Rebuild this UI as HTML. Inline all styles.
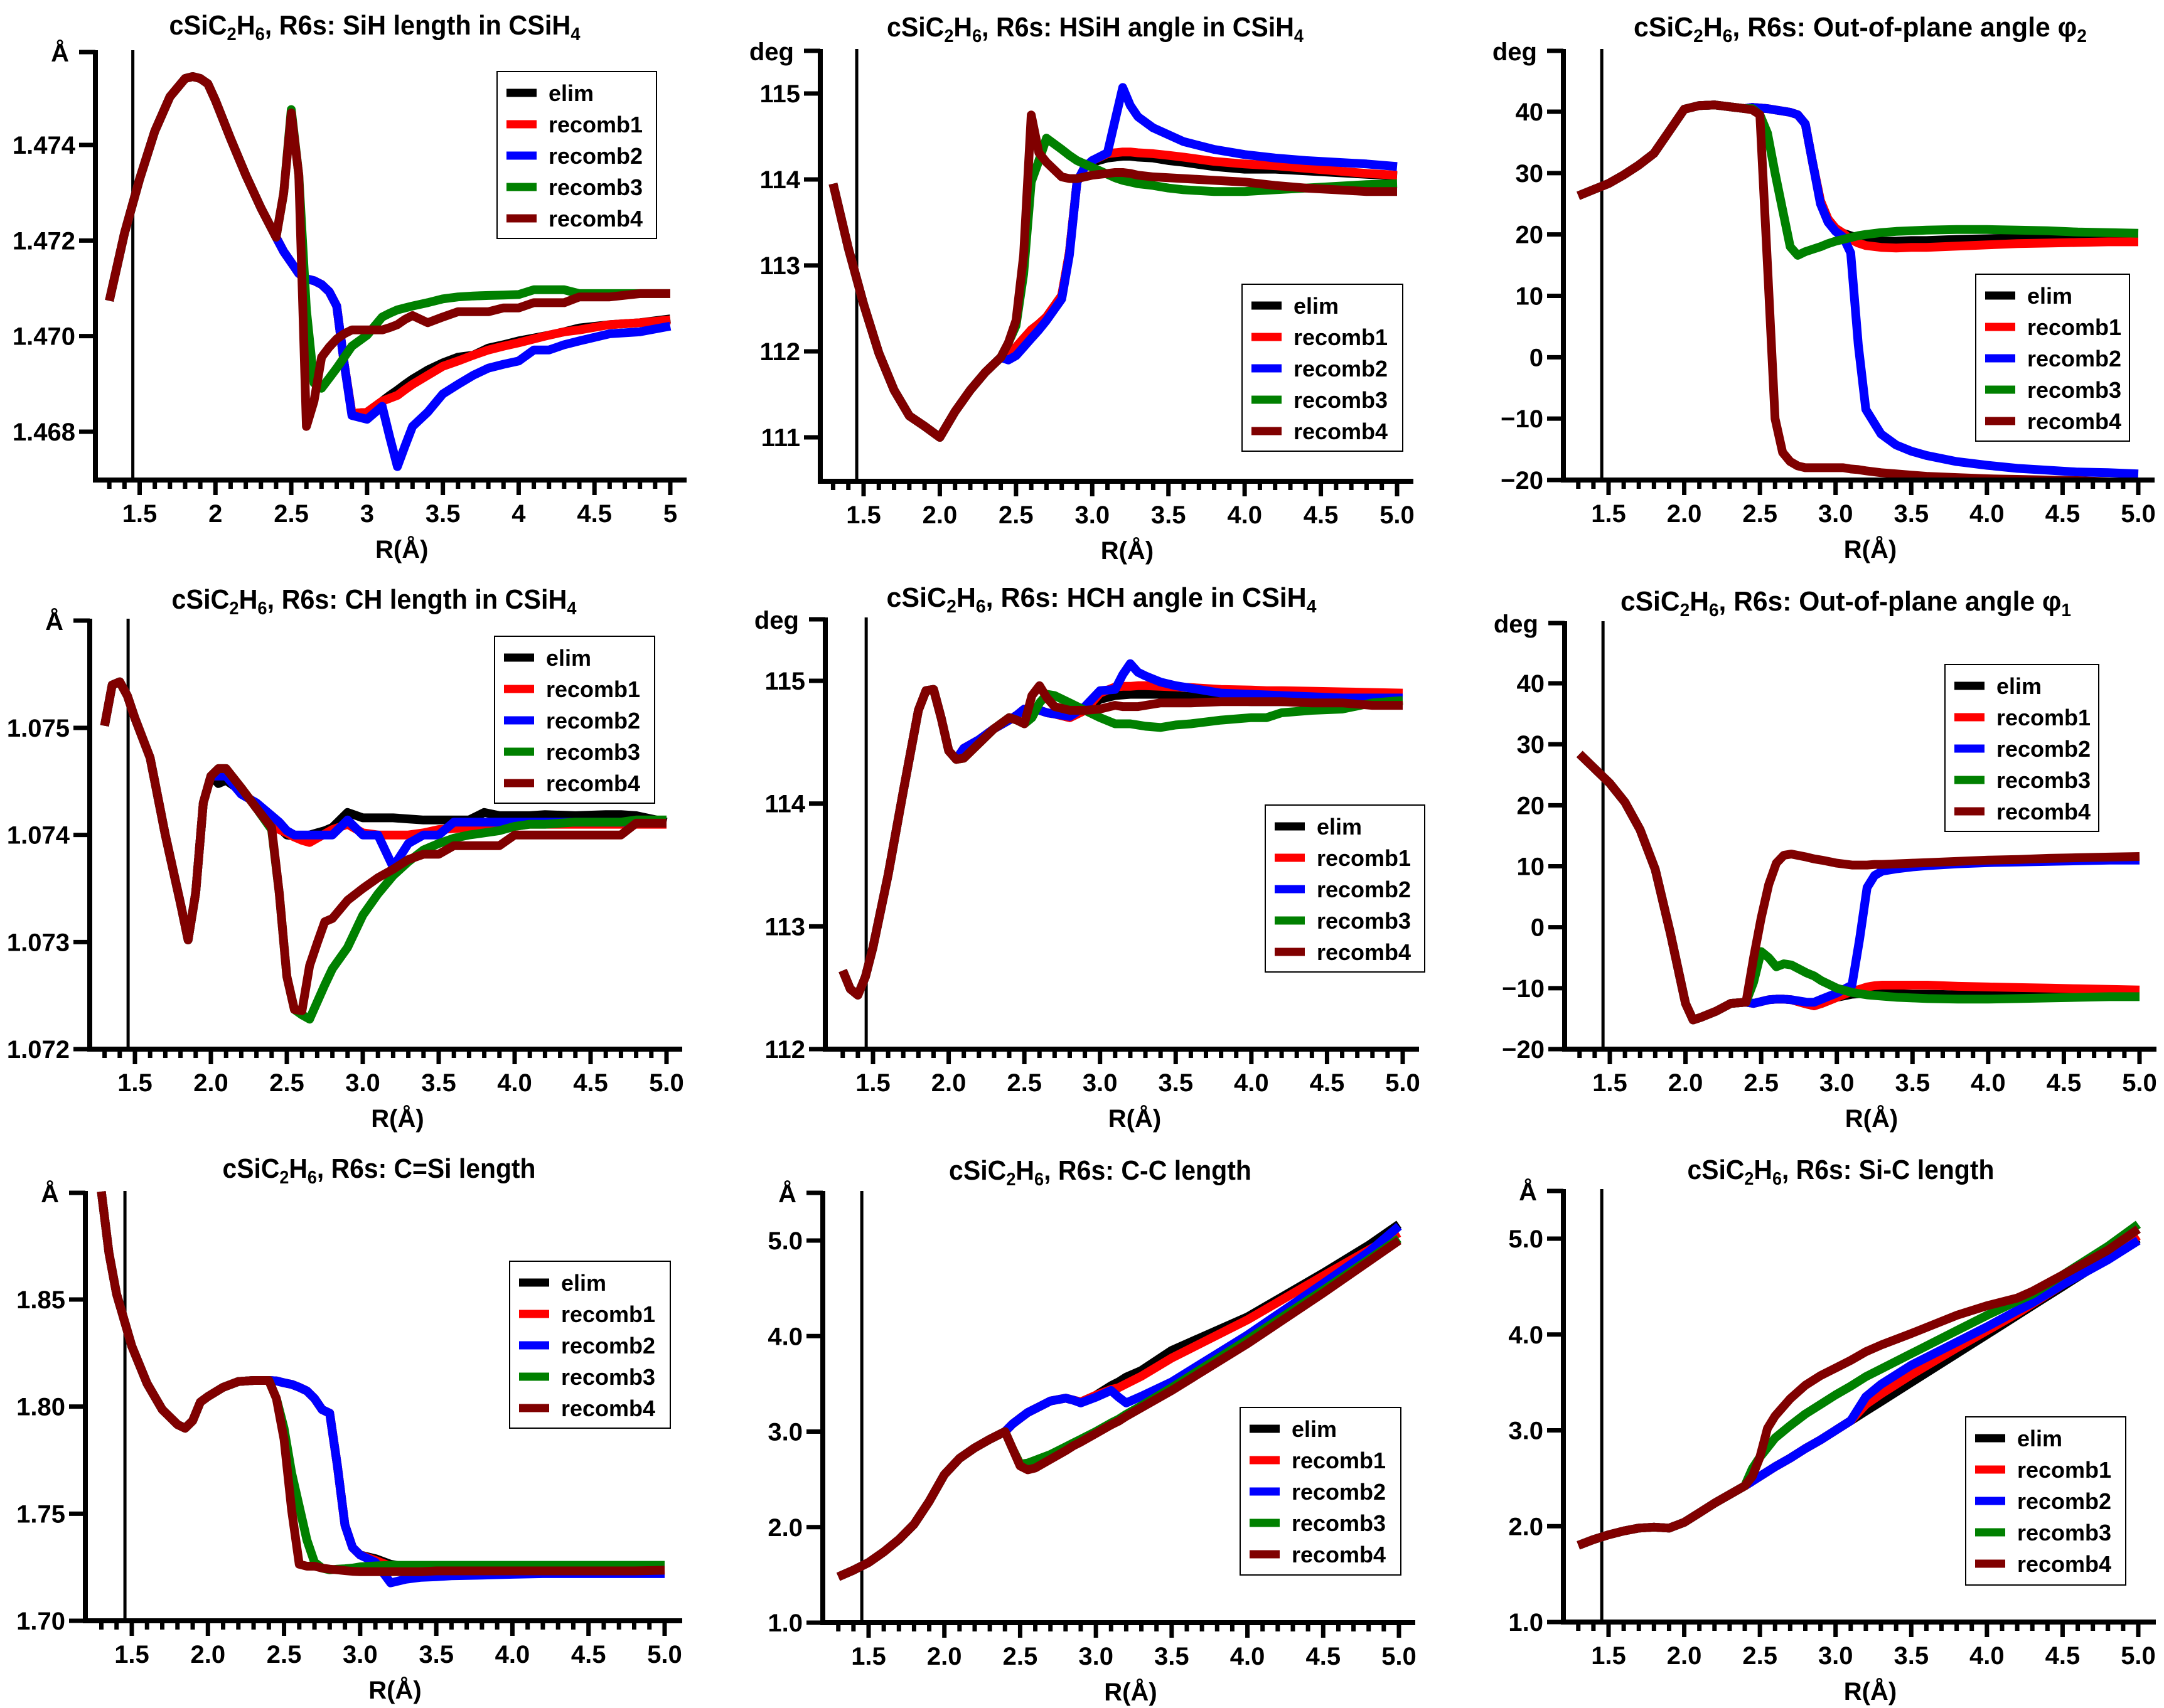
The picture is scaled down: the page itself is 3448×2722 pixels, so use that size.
<!DOCTYPE html>
<html><head><meta charset="utf-8"><title>cSiC2H6 R6s geometry</title>
<style>
html,body{margin:0;padding:0;background:#fff;}
svg{display:block;}
text{font-family:"Liberation Sans",Arial,sans-serif;font-weight:bold;fill:#000;}
</style></head>
<body>
<svg id="fig" xmlns="http://www.w3.org/2000/svg" width="3448" height="2722" viewBox="0 0 3448 2722"></svg>
<script>
// ---------- Panel 1: SiH length ----------
const p1X = [1.3,1.4,1.5,1.6,1.7,1.8,1.85,1.9,1.95,2.0,2.1,2.2,2.3,2.4,2.45,2.5,2.55,2.6,2.65,2.7,2.75,2.8,2.85,2.9,3.0,3.1,3.15,3.2,3.25,3.3,3.4,3.5,3.6,3.7,3.8,3.9,4.0,4.1,4.2,4.3,4.4,4.6,4.8,5.0];
const p1Base = [1.47074,1.47215,1.47329,1.47429,1.47501,1.47539,1.47543,1.47539,1.47528,1.47493,1.47413,1.47337,1.47268,1.47207];
const p1Elim = p1Base.concat([1.47177,1.47154,1.47131,1.4712,1.47116,1.47108,1.47093,1.47063,1.46941,1.46838,1.46841,1.46864,1.46876,1.46887,1.46899,1.4691,1.46929,1.46944,1.46956,1.4696,1.46975,1.46982,1.4699,1.46996,1.47002,1.47009,1.47017,1.47024,1.47028,1.47036]);
const p1R1 = p1Base.concat([1.47177,1.47154,1.47131,1.4712,1.47116,1.47108,1.47093,1.47063,1.46941,1.46838,1.46841,1.46864,1.4687,1.46876,1.46888,1.46899,1.46918,1.46937,1.46948,1.4696,1.46971,1.46979,1.46986,1.46994,1.47002,1.47009,1.47013,1.47024,1.47028,1.47034]);
const p1R2 = p1Base.concat([1.47177,1.47154,1.47131,1.4712,1.47116,1.47108,1.47093,1.47063,1.46941,1.46834,1.46826,1.46853,1.46788,1.46727,1.4677,1.46811,1.46841,1.46879,1.46899,1.46918,1.46933,1.46941,1.46948,1.46971,1.46971,1.46982,1.4699,1.47005,1.47009,1.47021]);
const p1R3 = p1Base.concat([1.47299,1.47474,1.47337,1.47055,1.46902,1.46891,1.46912,1.46933,1.46956,1.46979,1.47002,1.4704,1.47048,1.47055,1.47059,1.47063,1.4707,1.47078,1.47082,1.47084,1.47085,1.47086,1.47087,1.47097,1.47097,1.47097,1.47089,1.47089,1.47089,1.47089]);
const p1R4 = p1Base.concat([1.47299,1.47467,1.47337,1.46811,1.46864,1.46956,1.46977,1.46994,1.47005,1.47013,1.47013,1.47013,1.47018,1.47024,1.47035,1.47043,1.47028,1.4704,1.47051,1.47051,1.47051,1.47059,1.47059,1.4707,1.4707,1.4707,1.47082,1.47082,1.47089,1.47089]);
const p1Ticks = [1.468,1.470,1.472,1.474];
const p1TickLabels = ["1.468","1.470","1.472","1.474"];

// ---------- Panel 2: HSiH angle ----------
const p2X = [1.3,1.4,1.5,1.6,1.7,1.8,1.9,2.0,2.1,2.2,2.3,2.4,2.45,2.5,2.55,2.6,2.65,2.7,2.8,2.85,2.9,2.95,3.0,3.1,3.15,3.2,3.25,3.3,3.4,3.5,3.6,3.8,4.0,4.2,4.4,4.6,4.8,5.0];
const p2Base = [113.95,113.2,112.55,111.98,111.55,111.25,111.13,111.0,111.3,111.55,111.76,111.93];
const p2Elim = p2Base.concat([111.98,112.05,112.15,112.25,112.32,112.4,112.65,113.15,113.97,114.14,114.2,114.25,114.26,114.27,114.27,114.26,114.25,114.22,114.2,114.15,114.12,114.12,114.1,114.08,114.06,114.04]);
const p2R1 = p2Base.concat([111.98,112.05,112.15,112.25,112.32,112.4,112.65,113.15,113.97,114.14,114.22,114.3,114.31,114.32,114.32,114.31,114.3,114.28,114.26,114.21,114.18,114.16,114.13,114.1,114.07,114.05]);
const p2R2 = p2Base.concat([111.9,111.95,112.05,112.15,112.25,112.36,112.61,113.12,113.97,114.14,114.22,114.31,114.69,115.07,114.86,114.73,114.6,114.52,114.44,114.35,114.29,114.25,114.22,114.2,114.18,114.15]);
const p2R3 = p2Base.concat([112.1,112.3,112.9,113.97,114.22,114.48,114.35,114.28,114.22,114.18,114.14,114.06,114.02,113.99,113.97,113.95,113.93,113.9,113.88,113.86,113.86,113.88,113.9,113.92,113.94,113.95]);
const p2R4 = p2Base.concat([112.1,112.36,113.12,114.75,114.31,114.2,114.03,114.01,114.01,114.03,114.05,114.07,114.08,114.08,114.07,114.05,114.03,114.02,114.01,113.99,113.97,113.93,113.9,113.88,113.86,113.86]);
const p2Ticks = [111,112,113,114,115];
const p2TickLabels = ["111","112","113","114","115"];

// ---------- Panel 3: phi2 ----------
const p3X = [1.3,1.4,1.5,1.6,1.7,1.8,1.9,2.0,2.1,2.2,2.3,2.4,2.45,2.5,2.55,2.6,2.65,2.7,2.75,2.8,2.85,2.9,2.95,3.0,3.05,3.1,3.15,3.2,3.3,3.4,3.5,3.6,3.8,4.0,4.2,4.4,4.6,4.8,5.0];
const p3Base = [26.3,27.3,28.3,29.7,31.3,33.2,36.8,40.4,41.0,41.1,40.8,40.5];
const p3Elim = p3Base.concat([40.7,40.6,40.5,40.3,40.1,39.9,39.5,38.0,31.5,25.5,22.5,21,20.2,19.8,19.4,19.1,18.9,18.9,19,19,19.2,19.3,19.4,19.5,19.5,19.5,19.5]);
const p3R1 = p3Base.concat([40.7,40.6,40.5,40.3,40.1,39.9,39.5,38.0,31.5,25.5,22.5,21,20.2,19.2,18.6,18.2,17.9,17.8,17.9,17.9,18.1,18.3,18.5,18.6,18.7,18.8,18.8]);
const p3R2 = p3Base.concat([40.7,40.6,40.5,40.3,40.1,39.9,39.5,38.0,31.5,25,22,20.5,19.6,17,2,-8.5,-12.5,-14.3,-15.3,-16,-17,-17.6,-18.1,-18.4,-18.7,-18.8,-19]);
const p3R3 = p3Base.concat([40.5,39.5,36.5,30,24,18,16.6,17.2,17.6,18,18.5,18.9,19.2,19.5,19.8,20,20.3,20.5,20.6,20.7,20.8,20.8,20.7,20.6,20.4,20.3,20.2]);
const p3R4 = p3Base.concat([40.3,39.5,15,-10,-15.5,-17,-17.7,-18,-18,-18,-18,-18,-18,-18.2,-18.3,-18.5,-18.8,-19,-19.2,-19.4,-19.6,-19.8,-19.9,-20,-20.1,-20.3,-20.5]);
const p3Ticks = [-20,-10,0,10,20,30,40];
const p3TickLabels = ["\u221220","\u221210","0","10","20","30","40"];

// ---------- Panel 4: CH length ----------
const p4X = [1.3,1.35,1.4,1.45,1.5,1.6,1.7,1.8,1.85,1.9,1.95,2.0,2.05,2.1,2.2,2.3,2.4,2.45,2.5,2.55,2.6,2.65,2.7,2.75,2.8,2.9,3.0,3.1,3.2,3.3,3.4,3.5,3.6,3.7,3.8,3.9,4.0,4.1,4.2,4.4,4.6,4.7,4.8,5.0];
const p4Base = [1.07502,1.0754,1.07543,1.0753,1.07509,1.07472,1.074,1.07336,1.07302,1.07346,1.0743,1.07455];
const p4Elim = p4Base.concat([1.07448,1.07451,1.07441,1.07428,1.07414,1.07407,1.074,1.07399,1.07399,1.074,1.07402,1.07404,1.07407,1.07421,1.07416,1.07416,1.07416,1.07415,1.07414,1.07414,1.07414,1.07414,1.07421,1.07418,1.07418,1.07418,1.07419,1.07418,1.07419,1.07419,1.07418,1.07412]);
const p4R1 = p4Base.concat([1.07455,1.07457,1.07441,1.07428,1.07414,1.07405,1.07402,1.07398,1.07395,1.07393,1.07397,1.07401,1.07405,1.0741,1.07402,1.074,1.074,1.074,1.07402,1.07405,1.07406,1.07407,1.07407,1.07408,1.07408,1.0741,1.0741,1.0741,1.0741,1.0741,1.0741,1.0741]);
const p4R2 = p4Base.concat([1.07455,1.07455,1.07438,1.0743,1.07418,1.07412,1.07404,1.074,1.074,1.074,1.074,1.074,1.074,1.07414,1.074,1.074,1.0737,1.07392,1.074,1.074,1.07412,1.07412,1.07412,1.07412,1.07412,1.07412,1.07412,1.07412,1.07412,1.07412,1.07412,1.07412]);
const p4R3 = p4Base.concat([1.07462,1.07462,1.07444,1.07425,1.07405,1.07346,1.07268,1.07237,1.07232,1.07228,1.07244,1.0726,1.07275,1.07295,1.07325,1.07345,1.07362,1.07375,1.07386,1.07392,1.07397,1.074,1.07402,1.07404,1.07408,1.0741,1.0741,1.07412,1.07412,1.07412,1.07414,1.07414]);
const p4R4 = p4Base.concat([1.07462,1.07462,1.07444,1.07425,1.07407,1.07346,1.07268,1.07237,1.07236,1.07278,1.07299,1.07319,1.07322,1.07339,1.0735,1.0736,1.07368,1.07377,1.07382,1.07382,1.0739,1.0739,1.0739,1.0739,1.074,1.074,1.074,1.074,1.074,1.074,1.07411,1.07411]);
const p4Ticks = [1.072,1.073,1.074,1.075];
const p4TickLabels = ["1.072","1.073","1.074","1.075"];

// ---------- Panel 5: HCH angle ----------
const p5X = [1.3,1.35,1.4,1.45,1.5,1.6,1.7,1.8,1.85,1.9,1.95,2.0,2.05,2.1,2.2,2.3,2.4,2.45,2.5,2.55,2.6,2.65,2.7,2.8,2.9,3.0,3.1,3.15,3.2,3.25,3.3,3.4,3.5,3.6,3.8,4.0,4.1,4.2,4.4,4.6,4.8,5.0];
const p5Base = [112.64,112.49,112.44,112.59,112.83,113.42,114.1,114.76,114.92,114.93,114.7,114.43,114.36];
const p5Elim = p5Base.concat([114.45,114.52,114.61,114.68,114.72,114.77,114.77,114.76,114.74,114.73,114.7,114.76,114.85,114.88,114.885,114.89,114.89,114.89,114.89,114.88,114.87,114.84,114.83,114.83,114.83,114.83,114.83,114.83,114.83]);
const p5R1 = p5Base.concat([114.45,114.52,114.61,114.68,114.72,114.77,114.77,114.76,114.74,114.73,114.7,114.76,114.9,114.95,114.955,114.955,114.96,114.96,114.955,114.95,114.945,114.93,114.925,114.92,114.92,114.915,114.91,114.905,114.9]);
const p5R2 = p5Base.concat([114.45,114.52,114.61,114.68,114.72,114.77,114.77,114.76,114.74,114.73,114.71,114.79,114.92,114.93,115.05,115.14,115.07,115.04,114.99,114.96,114.94,114.9,114.89,114.885,114.88,114.87,114.86,114.86,114.86]);
const p5R3 = p5Base.concat([114.37,114.49,114.61,114.7,114.68,114.65,114.7,114.82,114.89,114.88,114.82,114.76,114.7,114.65,114.65,114.65,114.64,114.63,114.62,114.64,114.65,114.68,114.7,114.7,114.74,114.76,114.77,114.82,114.84]);
const p5R4 = p5Base.concat([114.37,114.49,114.61,114.7,114.68,114.65,114.88,114.96,114.86,114.79,114.76,114.76,114.77,114.8,114.79,114.79,114.79,114.8,114.82,114.82,114.82,114.83,114.83,114.83,114.83,114.82,114.82,114.8,114.8]);
const p5Ticks = [112,113,114,115];
const p5TickLabels = ["112","113","114","115"];

// ---------- Panel 6: phi1 ----------
const p6X = [1.3,1.4,1.5,1.6,1.7,1.8,1.9,2.0,2.05,2.1,2.2,2.3,2.4,2.45,2.5,2.55,2.6,2.65,2.7,2.8,2.85,2.9,3.0,3.1,3.15,3.2,3.25,3.3,3.4,3.5,3.6,3.8,4.0,4.2,4.4,4.6,4.8,5.0];
const p6Base = [28.4,26.0,23.6,20.5,16,9.5,-1,-12.5,-15.2,-14.8,-13.8,-12.5,-12.3];
const p6Elim = p6Base.concat([-12.5,-12.2,-11.9,-11.8,-11.8,-11.9,-12.6,-12.9,-12.5,-11.5,-11,-10.9,-10.8,-10.8,-10.8,-10.9,-11,-11,-11.1,-11.1,-11,-11,-11,-11,-11]);
const p6R1 = p6Base.concat([-12.5,-12.2,-11.9,-11.8,-11.8,-11.9,-12.6,-12.9,-12.5,-11.5,-10.5,-10.2,-9.8,-9.6,-9.5,-9.5,-9.5,-9.5,-9.7,-9.8,-9.9,-10,-10.1,-10.2,-10.3]);
const p6R2 = p6Base.concat([-12.5,-12.2,-11.9,-11.8,-11.8,-11.9,-12.3,-12.3,-11.8,-10.8,-9.5,-2,6.5,8.5,9.2,9.6,9.9,10.1,10.4,10.6,10.7,10.8,10.9,11,11]);
const p6R3 = p6Base.concat([-9,-4,-5,-6.5,-6,-6.2,-7.5,-8,-8.8,-10,-10.7,-10.9,-11.1,-11.2,-11.3,-11.5,-11.6,-11.7,-11.8,-11.8,-11.7,-11.6,-11.5,-11.4,-11.4]);
const p6R4 = p6Base.concat([-5,1.5,7,10.5,11.8,12,11.5,11.2,11,10.5,10.2,10.2,10.2,10.3,10.3,10.4,10.5,10.6,10.8,11,11.1,11.3,11.4,11.5,11.6]);
const p6Ticks = [-20,-10,0,10,20,30,40];
const p6TickLabels = ["\u221220","\u221210","0","10","20","30","40"];

// ---------- Panel 7: C=Si length ----------
const p7X = [1.3,1.35,1.4,1.45,1.5,1.6,1.7,1.8,1.85,1.9,1.95,2.0,2.1,2.2,2.3,2.4,2.45,2.5,2.55,2.6,2.65,2.7,2.75,2.8,2.85,2.9,2.95,3.0,3.1,3.2,3.3,3.4,3.5,3.6,3.8,4.0,4.2,4.4,4.6,4.8,5.0];
const p7Base = [1.9004,1.8717,1.8526,1.8404,1.8282,1.8108,1.7986,1.7916,1.7899,1.7934,1.8021,1.8047,1.809,1.8117,1.8122,1.8122];
const p7Elim = p7Base.concat([1.812,1.8111,1.8104,1.809,1.8073,1.8038,1.7986,1.7969,1.7725,1.7447,1.7342,1.7307,1.729,1.7264,1.7252,1.7241,1.7234,1.7234,1.7234,1.7234,1.7234,1.7234,1.7234,1.7234,1.7234]);
const p7R1 = p7Base.concat([1.812,1.8111,1.8104,1.809,1.8073,1.8038,1.7986,1.7969,1.7725,1.7447,1.7342,1.7307,1.7282,1.7255,1.7241,1.7234,1.7234,1.7234,1.7234,1.7234,1.7234,1.7234,1.7234,1.7234,1.7234]);
const p7R2 = p7Base.concat([1.812,1.8111,1.8104,1.809,1.8073,1.8038,1.7986,1.7969,1.7725,1.7447,1.7342,1.7307,1.7273,1.7177,1.7194,1.7203,1.7206,1.721,1.7213,1.7217,1.722,1.722,1.722,1.722,1.722]);
const p7R3 = p7Base.concat([1.8038,1.7899,1.769,1.7534,1.7377,1.7273,1.7246,1.7238,1.7241,1.7243,1.7246,1.7252,1.7256,1.7259,1.7259,1.7259,1.7259,1.7259,1.7259,1.7259,1.7259,1.7259,1.7259,1.7259,1.7259]);
const p7R4 = p7Base.concat([1.8038,1.7847,1.7516,1.7264,1.7255,1.7255,1.7246,1.7241,1.7238,1.7234,1.7231,1.7229,1.7229,1.7229,1.7229,1.7229,1.7233,1.7233,1.7233,1.7233,1.7233,1.7233,1.7233,1.7233,1.7236]);
const p7Ticks = [1.70,1.75,1.80,1.85];
const p7TickLabels = ["1.70","1.75","1.80","1.85"];

// ---------- Panel 8: C-C length ----------
const p8X = [1.3,1.4,1.5,1.6,1.7,1.8,1.9,2.0,2.1,2.2,2.3,2.4,2.45,2.5,2.55,2.6,2.7,2.8,2.85,2.9,3.0,3.1,3.15,3.2,3.3,3.5,4.0,4.5,4.8,5.0];
const p8Base = [1.48,1.55,1.63,1.74,1.87,2.03,2.27,2.55,2.72,2.83,2.92,3.0];
const p8Elim = p8Base.concat([3.08,3.14,3.2,3.24,3.32,3.35,3.33,3.31,3.38,3.48,3.52,3.57,3.64,3.85,4.2,4.66,4.95,5.17]);
const p8R1 = p8Base.concat([3.08,3.14,3.2,3.24,3.32,3.35,3.33,3.31,3.38,3.44,3.46,3.5,3.58,3.77,4.17,4.63,4.9,5.08]);
const p8R2 = p8Base.concat([3.08,3.14,3.2,3.24,3.32,3.35,3.33,3.3,3.36,3.43,3.36,3.3,3.37,3.52,4.01,4.55,4.88,5.15]);
const p8R3 = p8Base.concat([2.82,2.66,2.67,2.7,2.76,2.84,2.88,2.92,3.0,3.09,3.13,3.18,3.27,3.46,3.96,4.48,4.8,5.02]);
const p8R4 = p8Base.concat([2.82,2.64,2.6,2.62,2.71,2.8,2.85,2.89,2.98,3.07,3.11,3.16,3.25,3.43,3.92,4.45,4.78,5.0]);
const p8Ticks = [1,2,3,4,5];
const p8TickLabels = ["1.0","2.0","3.0","4.0","5.0"];

// ---------- Panel 9: Si-C length ----------
const p9X = [1.3,1.4,1.5,1.6,1.7,1.8,1.9,2.0,2.1,2.2,2.3,2.4,2.45,2.5,2.55,2.6,2.7,2.8,2.9,3.0,3.1,3.2,3.3,3.5,3.8,4.0,4.2,4.3,4.5,4.8,5.0];
const p9Base = [1.80,1.86,1.91,1.95,1.98,1.99,1.98,2.04,2.14,2.24,2.33,2.42];
const p9Elim = p9Base.concat([2.47,2.52,2.57,2.62,2.71,2.81,2.9,3.0,3.1,3.2,3.3,3.5,3.8,4.0,4.2,4.3,4.5,4.8,5.0]);
const p9R1 = p9Base.concat([2.47,2.52,2.57,2.62,2.71,2.81,2.9,3.0,3.1,3.27,3.38,3.58,3.86,4.04,4.22,4.32,4.52,4.82,5.03]);
const p9R2 = p9Base.concat([2.47,2.52,2.57,2.62,2.71,2.81,2.9,3.0,3.1,3.35,3.48,3.68,3.92,4.08,4.25,4.33,4.52,4.78,4.98]);
const p9R3 = p9Base.concat([2.6,2.72,2.82,2.92,3.05,3.17,3.27,3.37,3.46,3.56,3.64,3.8,4.04,4.2,4.35,4.42,4.62,4.92,5.15]);
const p9R4 = p9Base.concat([2.52,2.72,3.02,3.15,3.33,3.47,3.57,3.65,3.73,3.82,3.89,4.01,4.2,4.3,4.38,4.45,4.62,4.88,5.1]);
const p9Ticks = [1,2,3,4,5];
const p9TickLabels = ["1.0","2.0","3.0","4.0","5.0"];

const seriesNames = ["elim","recomb1","recomb2","recomb3","recomb4"];
const xMajor = [1.5,2.0,2.5,3.0,3.5,4.0,4.5,5.0];
const xMajorLabelsA = ["1.5","2","2.5","3","3.5","4","4.5","5"];
const xMajorLabelsB = ["1.5","2.0","2.5","3.0","3.5","4.0","4.5","5.0"];
const refLineX = 1.455;

// layout (pixel geometry only)
const colors = ["#000000","#ff0000","#0000ff","#008000","#800000"];
const panels = [
 {id:"sih-length",title:["cSiC","2","H","6",", R6s: SiH length in CSiH","4"],tc:597,tb:55,tw:655,ax:152,top:80,bot:765,right:1094,x15:222.5,x50:1068,ya:[1.474,231],yb:[1.468,688],lg:[792,1046,114,380],unit:"Å",X:p1X,S:[p1Elim,p1R1,p1R2,p1R3,p1R4],T:p1Ticks,TL:p1TickLabels,XL:xMajorLabelsA},
 {id:"hsih-angle",title:["cSiC","2","H","6",", R6s: HSiH angle in CSiH","4"],tc:1745,tb:58,tw:664,ax:1307,top:78,bot:767,right:2252,x15:1376,x50:2226,ya:[115,149],yb:[111,697],lg:[1979,2235,453,719],unit:"deg",X:p2X,S:[p2Elim,p2R1,p2R2,p2R3,p2R4],T:p2Ticks,TL:p2TickLabels,XL:xMajorLabelsB},
 {id:"phi2-angle",title:["cSiC","2","H","6",", R6s: Out-of-plane angle φ","2"],tc:2964,tb:58,tw:722,ax:2491,top:78,bot:765,right:3433,x15:2563,x50:3407,ya:[40,178],yb:[-20,765],lg:[3148,3393,437,703],unit:"deg",X:p3X,S:[p3Elim,p3R1,p3R2,p3R3,p3R4],T:p3Ticks,TL:p3TickLabels,XL:xMajorLabelsB},
 {id:"ch-length",title:["cSiC","2","H","6",", R6s: CH length in CSiH","4"],tc:596,tb:970,tw:645,ax:143,top:986,bot:1672,right:1087,x15:215,x50:1062,ya:[1.075,1160],yb:[1.072,1672],lg:[788,1043,1014,1280],unit:"Å",X:p4X,S:[p4Elim,p4R1,p4R2,p4R3,p4R4],T:p4Ticks,TL:p4TickLabels,XL:xMajorLabelsB},
 {id:"hch-angle",title:["cSiC","2","H","6",", R6s: HCH angle in CSiH","4"],tc:1755,tb:967,tw:685,ax:1315,top:984,bot:1672,right:2261,x15:1391,x50:2235,ya:[115,1085],yb:[112,1672],lg:[2016,2270,1283,1549],unit:"deg",X:p5X,S:[p5Elim,p5R1,p5R2,p5R3,p5R4],T:p5Ticks,TL:p5TickLabels,XL:xMajorLabelsB},
 {id:"phi1-angle",title:["cSiC","2","H","6",", R6s: Out-of-plane angle φ","1"],tc:2941,tb:973,tw:718,ax:2493,top:990,bot:1672,right:3436,x15:2565,x50:3409,ya:[40,1089],yb:[-20,1672],lg:[3099,3344,1059,1325],unit:"deg",X:p6X,S:[p6Elim,p6R1,p6R2,p6R3,p6R4],T:p6Ticks,TL:p6TickLabels,XL:xMajorLabelsB},
 {id:"csi-length",title:["cSiC","2","H","6",", R6s: C=Si length",""],tc:604,tb:1877,tw:499,ax:136,top:1898,bot:2583,right:1087,x15:210,x50:1059,ya:[1.85,2071],yb:[1.70,2583],lg:[812,1068,2010,2276],unit:"Å",X:p7X,S:[p7Elim,p7R1,p7R2,p7R3,p7R4],T:p7Ticks,TL:p7TickLabels,XL:xMajorLabelsB},
 {id:"cc-length",title:["cSiC","2","H","6",", R6s: C-C length",""],tc:1753,tb:1880,tw:482,ax:1311,top:1898,bot:2586,right:2255,x15:1384,x50:2229,ya:[5,1977],yb:[1,2586],lg:[1976,2232,2243,2510],unit:"Å",X:p8X,S:[p8Elim,p8R1,p8R2,p8R3,p8R4],T:p8Ticks,TL:p8TickLabels,XL:xMajorLabelsB},
 {id:"sic-length",title:["cSiC","2","H","6",", R6s: Si-C length",""],tc:2933,tb:1879,tw:489,ax:2491,top:1895,bot:2585,right:3435,x15:2563,x50:3407,ya:[5,1974],yb:[1,2585],lg:[3132,3387,2258,2526],unit:"Å",X:p9X,S:[p9Elim,p9R1,p9R2,p9R3,p9R4],T:p9Ticks,TL:p9TickLabels,XL:xMajorLabelsB}
];

const NS = "http://www.w3.org/2000/svg";
const svg = document.getElementById("fig");
function mk(tag, attrs, parent){
  const e = document.createElementNS(NS, tag);
  for (const k in attrs) e.setAttribute(k, attrs[k]);
  parent.appendChild(e);
  return e;
}
const defs = mk("defs", {}, svg);

panels.forEach((p, pi) => {
  const g = mk("g", {}, svg);
  
  
  const xs = v => p.x15 + (v - 1.5) * (p.x50 - p.x15) / 3.5;
  const ys = v => p.ya[1] + (v - p.ya[0]) * (p.yb[1] - p.ya[1]) / (p.yb[0] - p.ya[0]);

  // title
  const t = mk("text", {x:p.tc, y:p.tb, "text-anchor":"middle", "font-size":44, textLength:p.tw, lengthAdjust:"spacingAndGlyphs"}, g);
  
  
  const parts = p.title;
  const a = document.createElementNS(NS,"tspan"); a.textContent = parts[0]; t.appendChild(a);
  const b = document.createElementNS(NS,"tspan"); b.setAttribute("font-size","29"); b.setAttribute("dy","9"); b.textContent = parts[1]; t.appendChild(b);
  const c = document.createElementNS(NS,"tspan"); c.setAttribute("dy","-9"); c.textContent = parts[2]; t.appendChild(c);
  const d = document.createElementNS(NS,"tspan"); d.setAttribute("font-size","29"); d.setAttribute("dy","9"); d.textContent = parts[3]; t.appendChild(d);
  const e2 = document.createElementNS(NS,"tspan"); e2.setAttribute("dy","-9"); e2.textContent = parts[4]; t.appendChild(e2);
  if (parts[5]) { const f = document.createElementNS(NS,"tspan"); f.setAttribute("font-size","29"); f.setAttribute("dy","9"); f.textContent = parts[5]; t.appendChild(f); }

  // clip
  const cp = mk("clipPath", {id:"clip"+pi}, defs);
  mk("rect", {x:p.ax, y:p.top-20, width:p.right-p.ax+20, height:p.bot-p.top+16}, cp);

  // reference vertical line
  const rl = mk("line", {x1:xs(refLineX), x2:xs(refLineX), y1:p.top, y2:p.bot, stroke:"#000", "stroke-width":5}, g);
  
  

  // series
  const sg = mk("g", {"clip-path":"url(#clip"+pi+")"}, g);
  p.S.forEach((arr, si) => {
    const pts = arr.map((v, i) => xs(p.X[i]).toFixed(1) + "," + ys(v).toFixed(1)).join(" ");
    const pl = mk("polyline", {points:pts, fill:"none", stroke:colors[si], "stroke-width":14, "stroke-linejoin":"round", "stroke-linecap":"butt"}, sg);
    
    
  });

  // y axis
  const yax = mk("line", {x1:p.ax, x2:p.ax, y1:p.top, y2:p.bot+3.5, stroke:"#000", "stroke-width":8}, g);
  
  
  p.T.forEach((v, i) => {
    const y = ys(v);
    const tk = mk("line", {x1:p.ax-26, x2:p.ax, y1:y, y2:y, stroke:"#000", "stroke-width":7}, g);
    
    
    const tl = mk("text", {x:p.ax-32, y:y+14, "text-anchor":"end", "font-size":40}, g);
    
    
    tl.textContent = p.TL[i];
  });
  const tt = mk("line", {x1:p.ax-26, x2:p.ax, y1:p.top+3, y2:p.top+3, stroke:"#000", "stroke-width":7}, g);
  
  
  const un = mk("text", {x:p.ax-42, y:p.top+18, "text-anchor":"end", "font-size":40}, g);
  
  
  un.textContent = p.unit;

  // x axis
  const xax = mk("line", {x1:p.ax-4, x2:p.right, y1:p.bot, y2:p.bot, stroke:"#000", "stroke-width":8}, g);
  
  
  for (let k = 13; k <= 50; k++) {
    const v = k / 10;
    const major = (k % 5 === 0);
    const x = xs(v);
    const tk = mk("line", {x1:x, x2:x, y1:p.bot, y2:p.bot + (major ? 24 : 14), stroke:"#000", "stroke-width":7}, g);
    
    
  }
  xMajor.forEach((v, i) => {
    const tl = mk("text", {x:xs(v), y:p.bot+67, "text-anchor":"middle", "font-size":40}, g);
    
    
    tl.textContent = p.XL[i];
  });
  const xt = mk("text", {x:(p.x15+p.x50)/2 - 5, y:p.bot+124, "text-anchor":"middle", "font-size":40}, g);
  
  
  xt.textContent = "R(Å)";

  // legend
  const [lx0, lx1, ly0, ly1] = p.lg;
  const lg = mk("g", {}, g);
  
  
  mk("rect", {x:lx0, y:ly0, width:lx1-lx0, height:ly1-ly0, fill:"#fff", stroke:"#000", "stroke-width":2}, lg);
  seriesNames.forEach((n, si) => {
    const cy = ly0 + 34 + si * 50;
    const sw = mk("line", {x1:lx0+15, x2:lx0+63, y1:cy, y2:cy, stroke:colors[si], "stroke-width":13}, lg);
    
    
    const lt = mk("text", {x:lx0+82, y:cy+13, "font-size":36}, lg);
    
    
    lt.textContent = n;
  });
});
</script>
</body></html>
